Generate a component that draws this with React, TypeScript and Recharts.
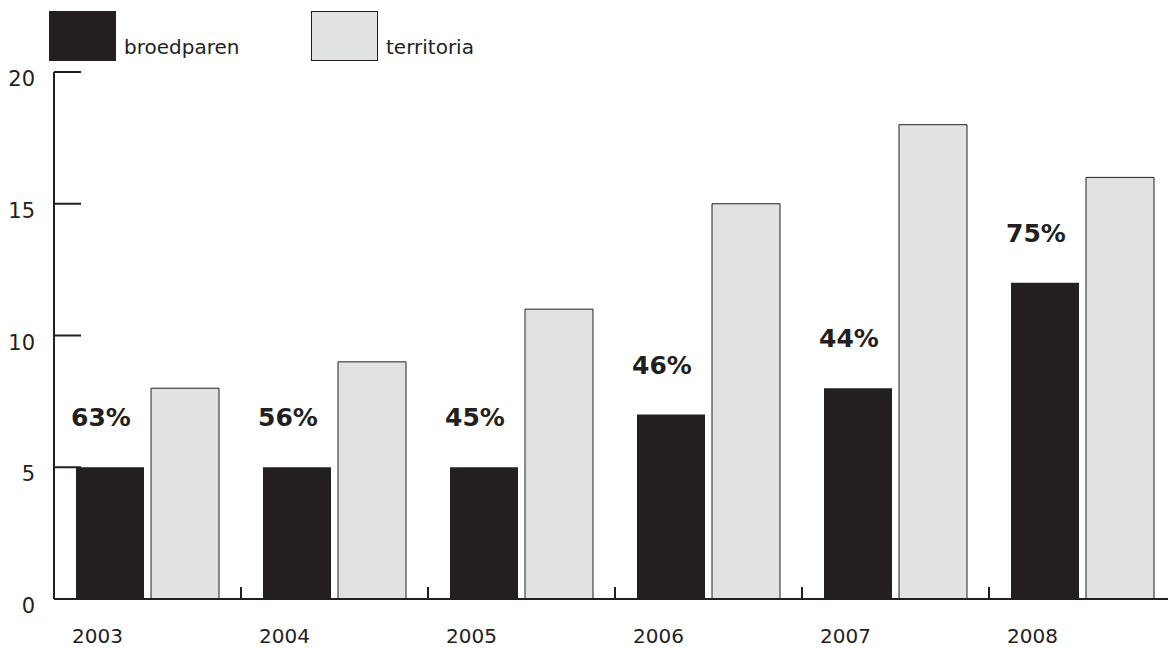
import React from 'react';
import { BarChart, Bar, XAxis, YAxis, LabelList } from 'recharts';

const years = ['2003', '2004', '2005', '2006', '2007', '2008'];
const broedparen = [5, 5, 5, 7, 8, 12];
const territoria = [8, 9, 11, 15, 18, 16];
const percentages = ['63%', '56%', '45%', '46%', '44%', '75%'];
const yTicks = [0, 5, 10, 15, 20];

const seriesNames = ['broedparen', 'territoria'];
const seriesColors = ['#231f20', '#e1e2e4'];

const data = years.map((year, i) => ({
    year,
    broedparen: broedparen[i],
    territoria: territoria[i],
    pct: percentages[i],
}));

const INK = '#231f20';
const FONT = '"DejaVu Sans", Verdana, sans-serif';

const YTick = (props: any) => {
    const { x, y, payload } = props;
    return (
        <g>
            <line x1={x} y1={y} x2={x + 27} y2={y} stroke={INK} strokeWidth={2} />
            <text x={x - 19} y={y + 8} textAnchor="end" fontSize={21} fill={INK} fontFamily={FONT} dominantBaseline="middle">
                {payload.value}
            </text>
        </g>
    );
};

const XTick = (props: any) => {
    const { x, y, payload, width } = props;
    const band = (width || 1122) / years.length;
    const edge = x + band / 2;
    return (
        <g>
            <line x1={edge} y1={y} x2={edge} y2={y - 12} stroke={INK} strokeWidth={2} />
            <text x={x - 50} y={y + 38} textAnchor="middle" fontSize={20} fill={INK} fontFamily={FONT} dominantBaseline="middle">
                {payload.value}
            </text>
        </g>
    );
};

const PctLabel = (props: any) => {
    const { x, y, width, value } = props;
    return (
        <text x={x + width / 2 - 9} y={y - 48} textAnchor="middle" fontSize={25} fontWeight="bold" fill={INK} fontFamily={FONT} dominantBaseline="middle">
            {value}
        </text>
    );
};

const LegendBox = () => (
    <div style={{ position: 'absolute', left: 0, top: 0, width: '100%', height: 60, fontFamily: FONT }}>
        {seriesNames.map((name, i) => (
            <div key={name} style={{ position: 'absolute', left: 41 + i * 262, top: 3, display: 'flex', alignItems: 'flex-end' }}>
                <div style={{
                    width: 67, height: 50, background: seriesColors[i],
                    border: i === 0 ? 'none' : `1px solid ${INK}`, boxSizing: 'border-box',
                }} />
                <span style={{ fontSize: 20, color: INK, marginLeft: 8, lineHeight: '24px', marginBottom: 2 }}>{name}</span>
            </div>
        ))}
    </div>
);

const App: React.FC = () => {
    return (
        <div style={{ position: 'relative', width: 1168, height: 640 }}>
            <BarChart
                width={1168}
                height={640}
                data={data}
                margin={{ top: 64, right: 0, left: 0, bottom: 0 }}
                barSize={68}
                barGap={7}
            >
                <XAxis
                    dataKey="year"
                    height={49}
                    tickSize={0}
                    tickMargin={0}
                    tick={<XTick />}
                    axisLine={{ stroke: INK, strokeWidth: 2 }}
                    tickLine={false}
                    interval={0}
                />
                <YAxis
                    width={46}
                    domain={[0, 20]}
                    ticks={yTicks}
                    tickSize={0}
                    tickMargin={0}
                    tick={<YTick />}
                    axisLine={{ stroke: INK, strokeWidth: 2 }}
                    tickLine={false}
                    interval={0}
                />
                <Bar dataKey="broedparen" fill={seriesColors[0]} isAnimationActive={false}>
                    <LabelList dataKey="pct" content={<PctLabel />} />
                </Bar>
                <Bar dataKey="territoria" fill={seriesColors[1]} stroke={INK} strokeWidth={1} isAnimationActive={false} />
            </BarChart>
            <LegendBox />
        </div>
    );
};

export default App;
